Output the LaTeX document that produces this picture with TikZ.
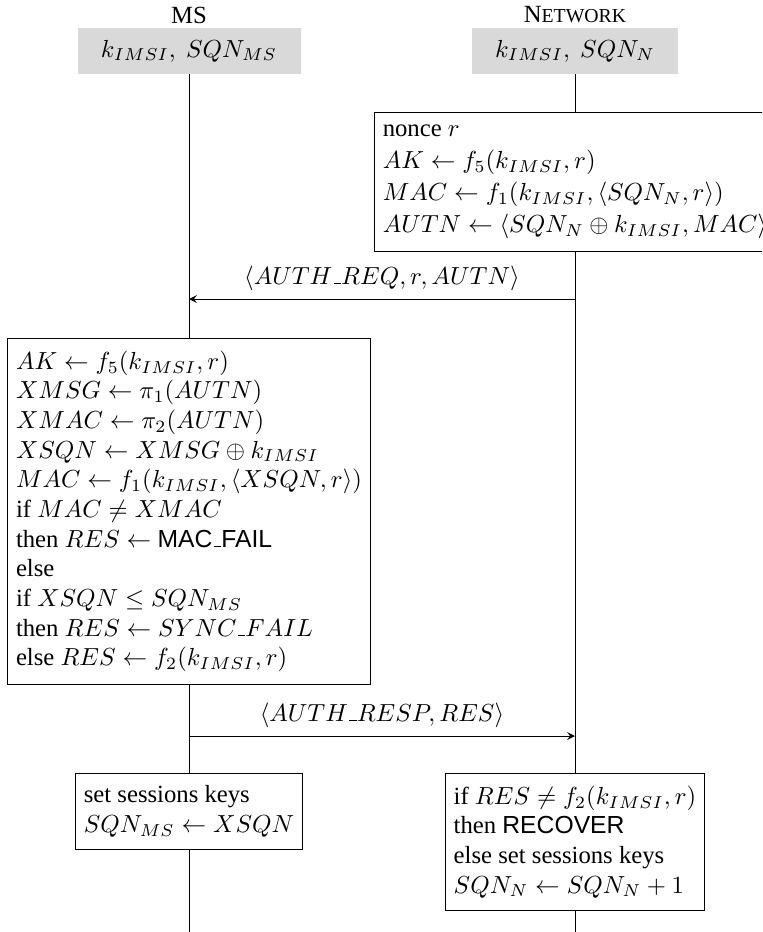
\documentclass[tikz,border=0pt]{standalone}
\usepackage{fontspec}
\setmainfont{Liberation Serif}
\setsansfont{Liberation Sans}
\usepackage{amsmath}
\usepackage{amssymb}
\newcommand{\usc}{\kern.06em\vbox{\hrule width.3em}}

\begin{document}
\begin{tikzpicture}[x=0.405pt,y=-0.405pt,
    head/.style={fill=black!15, minimum height=18.6pt, inner xsep=9.5pt},
    calc/.style={draw, fill=white, align=left, anchor=north, inner ysep=5pt},
    msg/.style={-stealth}]
  \useasboundingbox (0,0) rectangle (762,932);
  \clip (0,0) rectangle (762,932);

  \node (mstitle) at (189,15) {MS};
  \node (nettitle) at (575,15) {N{\footnotesize ETWORK}};

  \node[head] (ms) at (189,51) {$k_{IMSI},\ SQN_{MS}$};
  \node[head] (net) at (575,51) {$k_{IMSI},\ SQN_{N}$};

  \coordinate (msend) at (189,932);
  \coordinate (netend) at (575,932);
  \draw (ms.south) -- (msend);
  \draw (net.south) -- (netend);

  \node[calc] (netcalc) at (575,112) {nonce $r$\\[1pt]
    $AK \leftarrow f_5(k_{IMSI},r)$\\[1pt]
    $MAC \leftarrow f_1(k_{IMSI},\langle SQN_N,r\rangle)$\\[1pt]
    $AUTN \leftarrow \langle SQN_N \oplus k_{IMSI},MAC\rangle$};

  \coordinate (req) at (575,299);
  \draw[msg] (req) -- (req -| ms.south)
    node[midway,above] {$\langle AUTH\usc REQ,r,AUTN\rangle$};

  \node[calc] (mscalc) at (189,338) {$AK \leftarrow f_5(k_{IMSI},r)$\\
    $XMSG \leftarrow \pi_1(AUTN)$\\
    $XMAC \leftarrow \pi_2(AUTN)$\\
    $XSQN \leftarrow XMSG \oplus k_{IMSI}$\\
    $MAC \leftarrow f_1(k_{IMSI},\langle XSQN,r\rangle)$\\
    if $MAC \neq XMAC$\\
    then $RES \leftarrow$ \textsf{MAC\usc FAIL}\\
    else\\
    if $XSQN \leq SQN_{MS}$\\
    then $RES \leftarrow SYNC\usc FAIL$\\
    else $RES \leftarrow f_2(k_{IMSI},r)$};

  \coordinate (resp) at (189,736);
  \draw[msg] (resp) -- (resp -| net.south)
    node[midway,above] {$\langle AUTH\usc RESP,RES\rangle$};

  \node[calc] (mskeys) at (189,773) {set sessions keys\\
    $SQN_{MS} \leftarrow XSQN$};
  \node[calc] (netcheck) at (575,773) {if $RES \neq f_2(k_{IMSI},r)$\\
    then \textsf{RECOVER}\\
    else set sessions keys\\
    $SQN_N \leftarrow SQN_N + 1$};
\end{tikzpicture}
\end{document}
